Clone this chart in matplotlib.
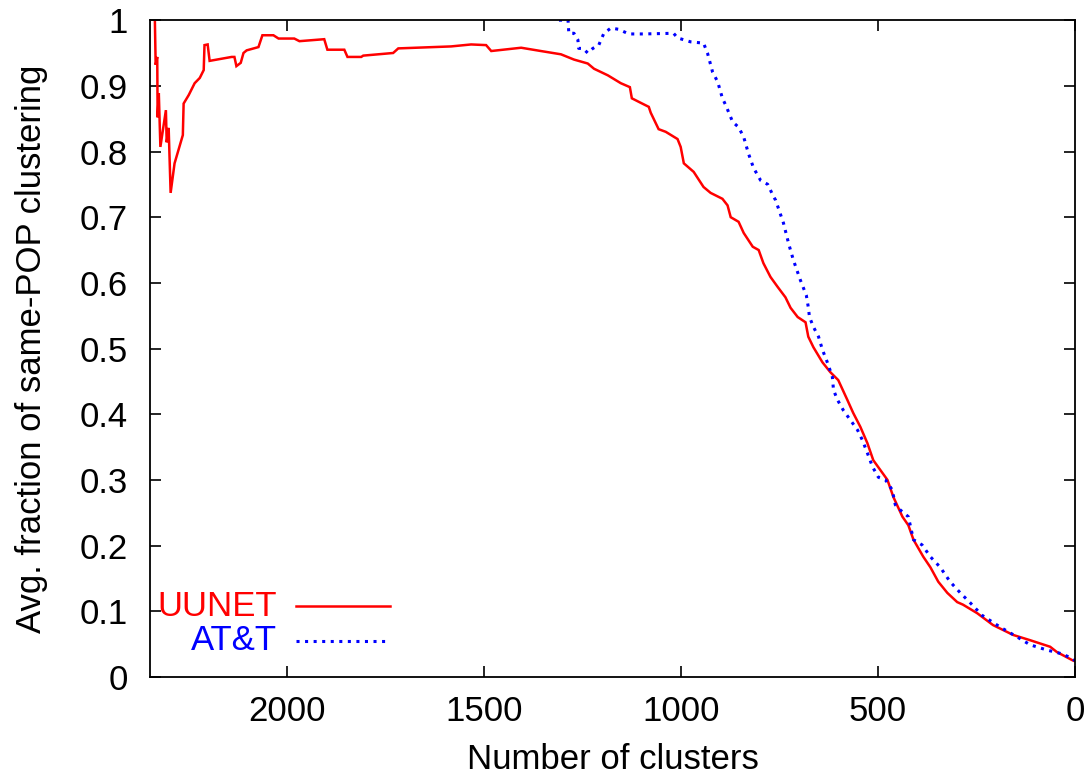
import matplotlib
matplotlib.use("Agg")
import matplotlib.pyplot as plt
from matplotlib.lines import Line2D

# UUNET curve (number of clusters, avg. fraction)
uunet_x = [2336, 2334, 2330, 2329, 2326, 2322, 2308, 2306, 2301, 2296, 2286, 2265,
           2263, 2250, 2235, 2222, 2212, 2210, 2202, 2197, 2141, 2134, 2129, 2118,
           2111, 2103, 2073, 2063, 2035, 2022, 1982, 1969, 1906, 1898, 1855, 1847,
           1812, 1807, 1731, 1718, 1584, 1533, 1495, 1482, 1406, 1356, 1305, 1272,
           1237, 1221, 1186, 1153, 1130, 1125, 1102, 1082, 1077, 1057, 1039, 1009,
           1001, 993, 968, 943, 925, 895, 882, 874, 854, 841, 818, 803, 791, 773,
           755, 735, 722, 704, 684, 677, 664, 641, 621, 601, 578, 563, 545, 527,
           512, 494, 476, 461, 438, 423, 410, 385, 367, 347, 324, 299, 284, 248,
           208, 157, 114, 63, 46, 5, 0]
uunet_y = [1.0, 0.932, 0.944, 0.852, 0.889, 0.807, 0.863, 0.814, 0.836, 0.737, 0.782, 0.825,
           0.873, 0.886, 0.904, 0.912, 0.924, 0.962, 0.963, 0.938, 0.944, 0.944, 0.930, 0.935,
           0.950, 0.954, 0.959, 0.977, 0.977, 0.972, 0.972, 0.968, 0.971, 0.955, 0.955, 0.944,
           0.944, 0.946, 0.950, 0.957, 0.960, 0.963, 0.962, 0.953, 0.958, 0.953, 0.948, 0.940,
           0.934, 0.926, 0.916, 0.904, 0.898, 0.881, 0.874, 0.868, 0.859, 0.834, 0.830, 0.819,
           0.807, 0.782, 0.769, 0.746, 0.737, 0.728, 0.718, 0.700, 0.693, 0.676, 0.655, 0.650, 0.630, 0.609,
           0.594, 0.578, 0.562, 0.548, 0.540, 0.518, 0.502, 0.479, 0.464, 0.452, 0.422, 0.402, 0.381, 0.356,
           0.330, 0.315, 0.300, 0.274, 0.244, 0.231, 0.209, 0.183, 0.167, 0.145, 0.128, 0.114, 0.110, 0.097,
           0.079, 0.064, 0.056, 0.046, 0.038, 0.025, 0.024]

# AT&T curve
att_x = [1310, 1287, 1285, 1272, 1262, 1260, 1249, 1237, 1224, 1209, 1196, 1178,
         1158, 1133, 1095, 1019, 1009, 976, 943, 933, 920, 907, 895, 887, 869, 854,
         841, 829, 816, 798, 780, 765, 760, 740, 727, 715, 697, 682, 677, 674, 664,
         651, 641, 628, 616, 613, 603, 588, 570, 552, 540, 527, 514, 499, 481, 464,
         456, 443, 423, 410, 388, 367, 342, 317, 291, 266, 236, 190, 147, 114, 71,
         38, 13, 0]
att_y = [1.0, 1.0, 0.980, 0.980, 0.970, 0.957, 0.957, 0.950, 0.957, 0.962, 0.980, 0.988,
         0.986, 0.979, 0.979, 0.980, 0.973, 0.967, 0.965, 0.950, 0.921, 0.906, 0.881, 0.871, 0.845, 0.837,
         0.822, 0.797, 0.775, 0.756, 0.750, 0.731, 0.726, 0.691, 0.660, 0.635, 0.604, 0.581, 0.563, 0.548, 0.533,
         0.518, 0.498, 0.478, 0.457, 0.437, 0.422, 0.406, 0.391, 0.376, 0.361, 0.341, 0.320, 0.304, 0.300, 0.285,
         0.262, 0.254, 0.244, 0.209, 0.201, 0.183, 0.167, 0.145, 0.128, 0.113, 0.094, 0.076, 0.061, 0.049, 0.041,
         0.036, 0.030, 0.025]

x_ticks = [2000, 1500, 1000, 500, 0]
y_ticks = [0, 0.1, 0.2, 0.3, 0.4, 0.5, 0.6, 0.7, 0.8, 0.9, 1]
y_tick_labels = ['0', '0.1', '0.2', '0.3', '0.4', '0.5', '0.6', '0.7', '0.8', '0.9', '1']

plt.rcParams['font.family'] = ['Liberation Sans', 'DejaVu Sans']
plt.rcParams['font.size'] = 25

fig = plt.figure(figsize=(10.88, 7.75), dpi=100)
ax = fig.add_axes([0.138, 0.1265, 0.850, 0.8475])

ax.plot(uunet_x, uunet_y, color='#ff0000', lw=1.8, solid_joinstyle='miter')
ax.plot(att_x, att_y, color='#0000ff', lw=2.2, dashes=(1, 1.8), dash_capstyle='butt')

ax.set_xlim(2348, 0)
ax.set_ylim(0, 1)
ax.set_xticks(x_ticks)
ax.set_yticks(y_ticks)
ax.set_yticklabels(y_tick_labels)

ax.tick_params(direction='in', length=8, width=1.2, top=True, right=True)
ax.tick_params(axis='x', pad=13)
ax.tick_params(axis='y', pad=16)
for s in ax.spines.values():
    s.set_linewidth(1.3)

ax.set_xlabel('Number of clusters', labelpad=11)
ax.set_ylabel('Avg. fraction of same-POP clustering', labelpad=23)

# key, gnuplot style: right aligned text then line sample
ax.text(0.137, 0.108, 'UUNET', color='#ff0000', ha='right', va='center', transform=ax.transAxes)
ax.text(0.137, 0.055, 'AT&T', color='#0000ff', ha='right', va='center', transform=ax.transAxes)
ax.add_line(Line2D([0.158, 0.259], [0.108, 0.108], color='#ff0000', lw=1.8, transform=ax.transAxes))
ax.add_line(Line2D([0.158, 0.259], [0.055, 0.055], color='#0000ff', lw=2.2,
                   dashes=(1, 1.8), dash_capstyle='butt', transform=ax.transAxes))

fig.savefig('out.png', dpi=100)
